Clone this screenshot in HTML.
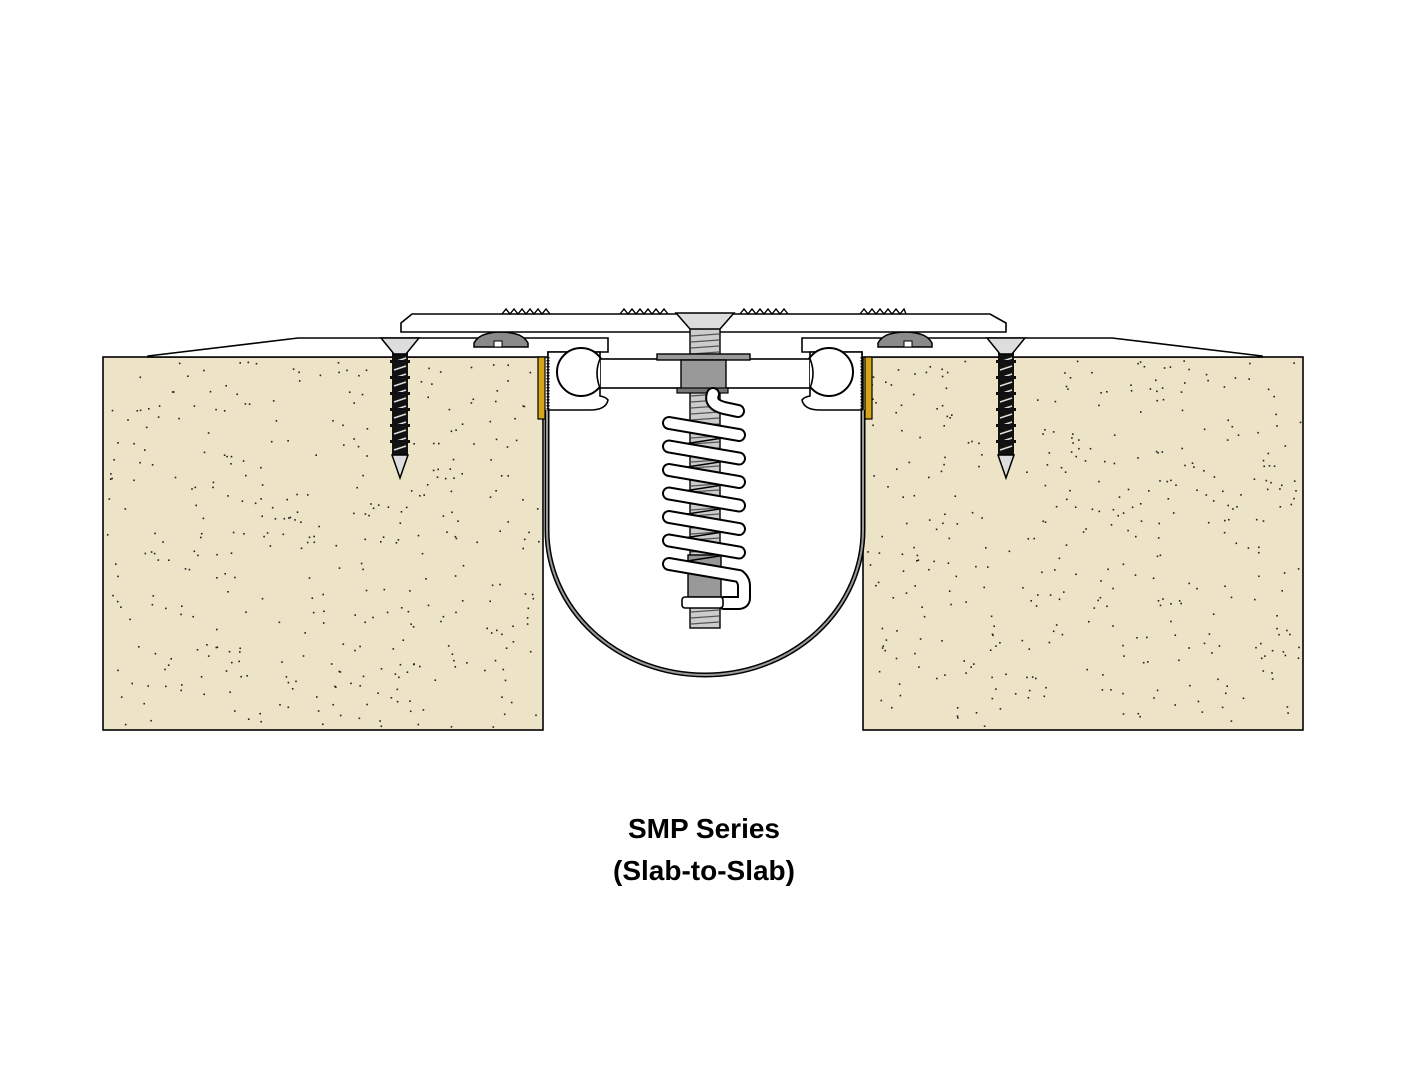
<!DOCTYPE html>
<html><head><meta charset="utf-8">
<style>
html,body{margin:0;padding:0;background:#fff;}
svg{display:block;}
</style></head>
<body>
<svg id="s" width="1408" height="1088" viewBox="0 0 1408 1088" xmlns="http://www.w3.org/2000/svg">
<defs>
<g id="screw">
  <rect x="-8" y="352" width="16" height="104" fill="#111"/>
  <g stroke="#ddd" stroke-width="1.6">
    <line x1="-6" y1="362" x2="6" y2="358"/><line x1="-6" y1="370" x2="6" y2="366"/>
    <line x1="-6" y1="378" x2="6" y2="374"/><line x1="-6" y1="386" x2="6" y2="382"/>
    <line x1="-6" y1="394" x2="6" y2="390"/><line x1="-6" y1="402" x2="6" y2="398"/>
    <line x1="-6" y1="410" x2="6" y2="406"/><line x1="-6" y1="418" x2="6" y2="414"/>
    <line x1="-6" y1="426" x2="6" y2="422"/><line x1="-6" y1="434" x2="6" y2="430"/>
    <line x1="-6" y1="442" x2="6" y2="438"/><line x1="-6" y1="450" x2="6" y2="446"/>
  </g>
  <g fill="#111">
    <rect x="-10" y="360" width="20" height="3"/><rect x="-10" y="376" width="20" height="3"/>
    <rect x="-10" y="392" width="20" height="3"/><rect x="-10" y="408" width="20" height="3"/>
    <rect x="-10" y="424" width="20" height="3"/><rect x="-10" y="440" width="20" height="3"/>
  </g>
  <path d="M-8,455 L8,455 L0,478 Z" fill="#ddd" stroke="#000" stroke-width="1.5"/>
  <path d="M-19,338 L19,338 L6,354 L-6,354 Z" fill="#ddd" stroke="#000" stroke-width="1.5"/>
</g>
<g id="gasket">
  <path d="M474,347 L474,343 Q478,336 486,334 Q500,330 516,334 Q524,336 528,343 L528,347 Z" fill="#8a8a8a" stroke="#000" stroke-width="1.5"/>
  <rect x="494" y="341" width="8" height="6" fill="#fff" stroke="#000" stroke-width="1"/>
</g>
<g id="frame">
  <path d="M148,356 L298,338 L608,338 L608,352 L548,352 L548,357 L148,357 Z" fill="#fff" stroke="#000" stroke-width="1.6"/>
  <path d="M548,352 L600,352 L600,396 Q606,397 608,400 Q606,410 590,410 L548,410 Z" fill="#fff" stroke="#000" stroke-width="1.6"/>
  <circle cx="581" cy="372" r="24" fill="#fff" stroke="#000" stroke-width="2"/>
  <path d="M548,357 L548,410" stroke="#000" stroke-width="3" stroke-dasharray="1.5 1.5"/>
  <rect x="538" y="357" width="7" height="62" fill="#d4a614" stroke="#000" stroke-width="1.2"/>
</g>
</defs>

<rect x="103" y="357" width="440" height="373" fill="#ede3c6" stroke="#000" stroke-width="1.6"/>
<rect x="863" y="357" width="440" height="373" fill="#ede3c6" stroke="#000" stroke-width="1.6"/>
<g id="dots" fill="#222"></g>

<path d="M547,410 L547,530 A158 145 0 0 0 863,530 L863,410" fill="#fff" stroke="#000" stroke-width="5"/>
<path d="M547,410 L547,530 A158 145 0 0 0 863,530 L863,410" fill="none" stroke="#999" stroke-width="2"/>

<use href="#frame"/>
<use href="#frame" transform="translate(1410,0) scale(-1,1)"/>

<rect x="600" y="359" width="210" height="29" fill="#fff" stroke="#000" stroke-width="1.6"/>
<path d="M600,359 Q594,373 600,388" fill="#fff" stroke="#000" stroke-width="1.6"/>
<path d="M810,359 Q816,373 810,388" fill="#fff" stroke="#000" stroke-width="1.6"/>

<use href="#gasket"/>
<use href="#gasket" transform="translate(1406,0) scale(-1,1)"/>

<use href="#screw" transform="translate(400,0)"/>
<use href="#screw" transform="translate(1006,0)"/>

<path d="M401,323 L412,314 L990,314 L1006,323 L1006,332 L401,332 Z" fill="#fff" stroke="#000" stroke-width="1.6"/>
<g fill="none" stroke="#000" stroke-width="1.4">
  <polyline points="502,314 506,309 510,314 514,309 518,314 522,309 526,314 530,309 534,314 538,309 542,314 546,309 550,314"/>
  <polyline points="620,314 624,309 628,314 632,309 636,314 640,309 644,314 648,309 652,314 656,309 660,314 664,309 668,314"/>
  <polyline points="740,314 744,309 748,314 752,309 756,314 760,309 764,314 768,309 772,314 776,309 780,314 784,309 788,314"/>
  <polyline points="860,314 864,309 868,314 872,309 876,314 880,309 884,314 888,309 892,314 896,309 900,314 904,309 906,314"/>
</g>

<rect x="690" y="328" width="30" height="300" fill="#ccc" stroke="#000" stroke-width="1.4"/>
<g stroke="#555" stroke-width="1.2" id="threads"></g>
<rect x="688" y="555" width="33" height="42" fill="#999" stroke="#000" stroke-width="1.4"/>
<path d="M676,313 L734,313 L720,329 L690,329 Z" fill="#ddd" stroke="#000" stroke-width="1.5"/>
<rect x="657" y="354" width="93" height="6" fill="#999" stroke="#000" stroke-width="1.4"/>
<rect x="681" y="360" width="45" height="29" fill="#999" stroke="#000" stroke-width="1.4"/>
<rect x="677" y="388" width="51" height="5" fill="#777" stroke="#000" stroke-width="1.2"/>

<g id="spring" fill="none" stroke-linecap="round" stroke-linejoin="round"></g>
<rect x="682" y="597" width="41" height="11" rx="3" fill="#fff" stroke="#000" stroke-width="1.6"/>

<text x="704" y="838" text-anchor="middle" font-family="Liberation Sans, Arial, sans-serif" font-weight="bold" font-size="28" fill="#000">SMP Series</text>
<text x="704" y="880" text-anchor="middle" font-family="Liberation Sans, Arial, sans-serif" font-weight="bold" font-size="28" fill="#000">(Slab-to-Slab)</text>
</svg>
<script>
(function(){
 var NS="http://www.w3.org/2000/svg";
 var seed=12345;function r(){seed=(seed*1103515245+12345)&0x7fffffff;return seed/0x7fffffff;}
 var g=document.getElementById('dots');
 function fill(x0,y0,w,h,n,skip){for(var i=0;i<n;i++){var x=x0+3+r()*(w-6),y=y0+3+r()*(h-6);
  if(skip&&skip(x,y))continue;var c=document.createElementNS(NS,'rect');c.setAttribute('x',x.toFixed(1));c.setAttribute('y',y.toFixed(1));c.setAttribute('width','1.6');c.setAttribute('height','1.6');g.appendChild(c);}}
 fill(103,357,440,373,380,function(x,y){return Math.abs(x-400)<13&&y<480;});
 fill(863,357,440,373,380,function(x,y){return Math.abs(x-1006)<13&&y<480;});
 var t=document.getElementById('threads');
 for(var y=334;y<626;y+=6){if(y>553&&y<609)continue;var l=document.createElementNS(NS,'line');l.setAttribute('x1',691);l.setAttribute('x2',719);l.setAttribute('y1',y+2);l.setAttribute('y2',y);t.appendChild(l);}
 var sp=document.getElementById('spring');
 function path(d,w,c){var e=document.createElementNS(NS,'path');e.setAttribute('d',d);e.setAttribute('stroke',c);e.setAttribute('stroke-width',w);sp.appendChild(e);}
 for(var i=0;i<6;i++){var y=423+i*23.5;path("M742,"+(y+12)+" L668,"+(y+23.5),1.4,"#000");}
 var all="M713,394 Q709,404 724,408 L738,411";
 for(var i=0;i<7;i++){var y=423+i*23.5; all+=" M669,"+y+" L739,"+(y+12);}
 all+=" M739,576 Q744,580 744,586 L744,598 Q744,603 738,603 L724,603";
 path(all,14,"#000");path(all,10,"#fff");
})();
</script>
</body></html>
